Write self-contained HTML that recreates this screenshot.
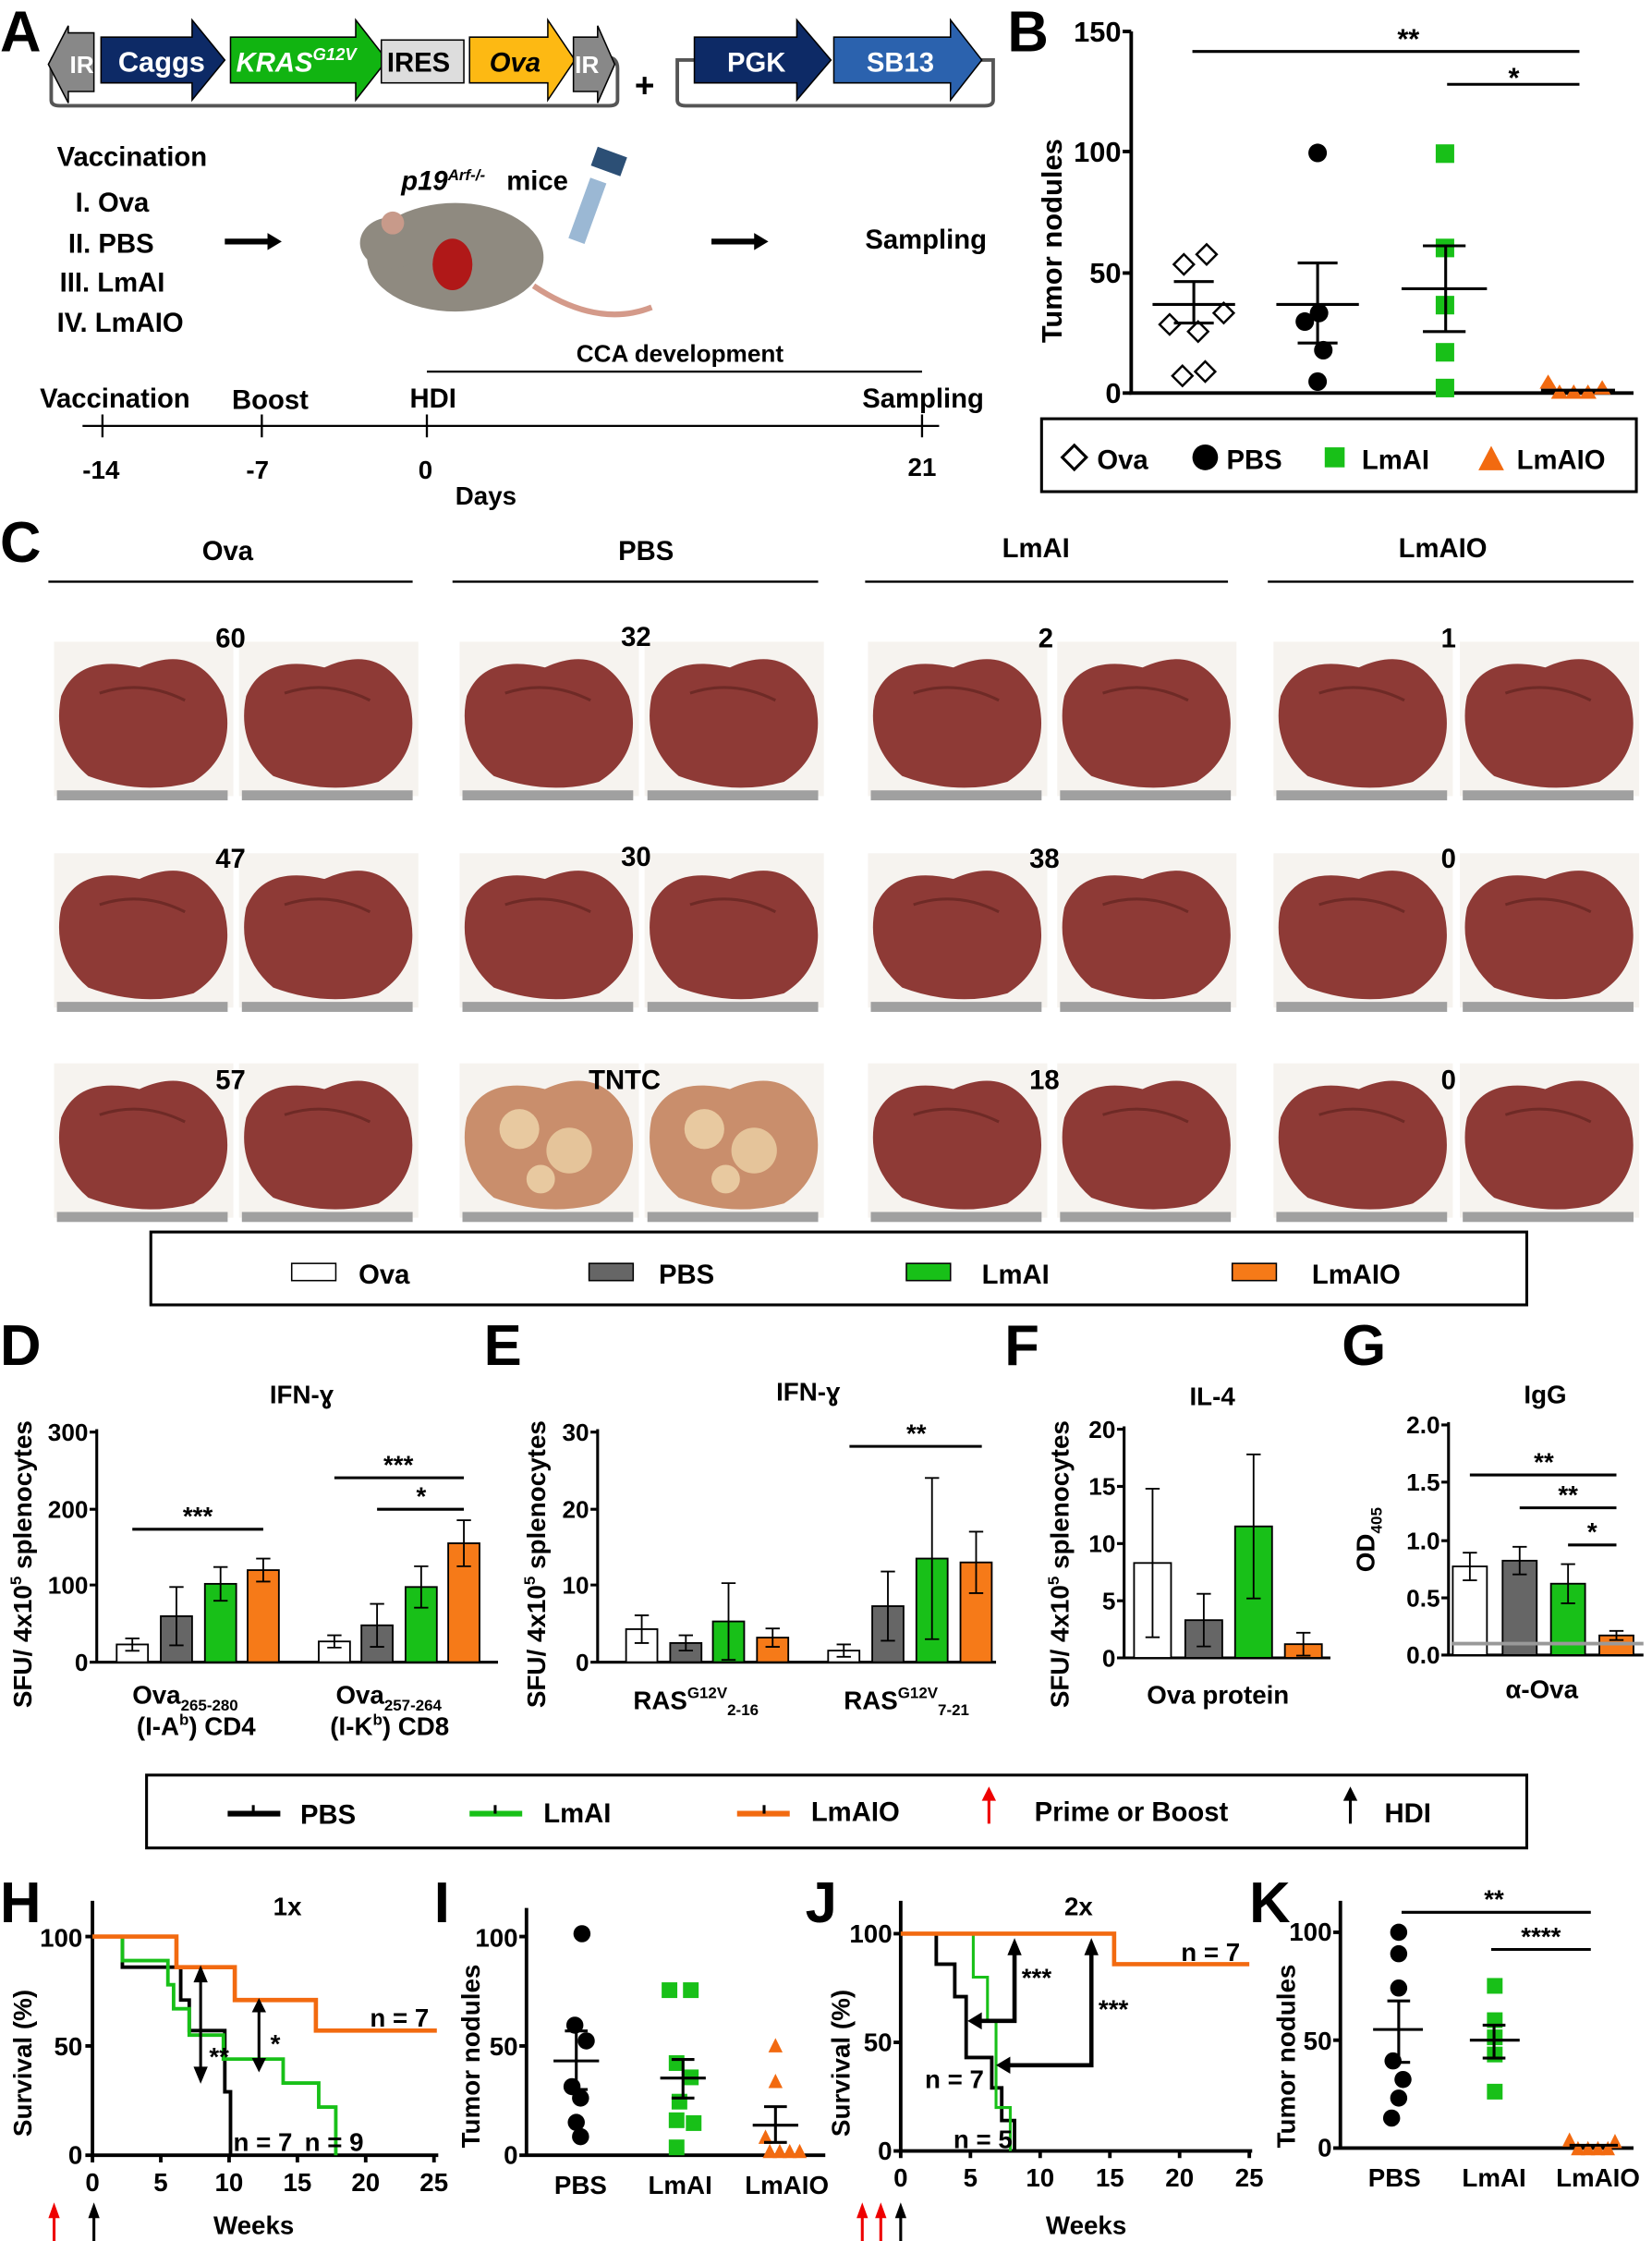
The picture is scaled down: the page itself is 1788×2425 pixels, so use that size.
<!DOCTYPE html>
<html><head><meta charset="utf-8">
<style>
html,body{margin:0;padding:0;background:#fff;}
svg{display:block;font-family:"Liberation Sans",Arial,sans-serif;font-weight:bold;}
</style></head>
<body>
<svg width="1788" height="2425" viewBox="0 0 1161 1568" preserveAspectRatio="none" xmlns="http://www.w3.org/2000/svg">
<defs>
<g id="lv"><rect x="-2" y="-6" width="126" height="108" fill="#f6f3ef"/>
<path d="M3,32 Q15,2 58,12 Q98,-6 117,32 Q128,72 96,92 Q60,102 22,88 Q-4,66 3,32Z" fill="#8e3a36"/>
<path d="M30,30 Q60,20 90,35" stroke="#6e2a26" stroke-width="2" fill="none"/>
<rect x="0" y="98" width="120" height="7" fill="#a0a0a0"/></g>
<g id="lvt"><rect x="-2" y="-6" width="126" height="108" fill="#f6f3ef"/>
<path d="M3,32 Q15,2 58,12 Q98,-6 117,32 Q128,72 96,92 Q60,102 22,88 Q-4,66 3,32Z" fill="#c98e6c"/>
<circle cx="40" cy="40" r="14" fill="#e8c9a0"/><circle cx="75" cy="55" r="16" fill="#e5c49a"/><circle cx="55" cy="75" r="10" fill="#e8c9a0"/>
<rect x="0" y="98" width="120" height="7" fill="#a0a0a0"/></g>
</defs>
<rect width="1161" height="1568" fill="#fff"/>
<g font-size="40" fill="#000">
<text x="0" y="36">A</text><text x="708" y="36">B</text><text x="0" y="393">C</text>
<text x="0" y="955">D</text><text x="340" y="955">E</text><text x="706" y="955">F</text><text x="943" y="955">G</text>
<text x="0" y="1345">H</text><text x="305" y="1345">I</text><text x="566" y="1345">J</text><text x="878" y="1345">K</text>
</g>
<!-- construct -->
<path d="M60,40 L38,40 Q36,40 36,48 L36,70 Q36,74 42,74 L428,74 Q434,74 434,70 L434,48 Q434,40 426,40" fill="none" stroke="#555" stroke-width="2.5"/>
<polygon points="66,23 66,64 48,64 48,72 34,45 48,18 48,23" fill="#888" stroke="#000"/>
<text x="49" y="51" font-size="17" fill="#fff">IR</text>
<polygon points="71,26 135,26 135,14 158,42 135,70 135,58 71,58" fill="#0d2a66" stroke="#000"/>
<text x="83" y="50" font-size="20" fill="#fff">Caggs</text>
<polygon points="162,26 250,26 250,14 272,42 250,70 250,58 162,58" fill="#11b411" stroke="#000"/>
<text x="166" y="50" font-size="19" fill="#fff" font-style="italic">KRAS<tspan font-size="12" dy="-8">G12V</tspan></text>
<rect x="268" y="28" width="58" height="30" fill="#ddd" stroke="#000"/>
<text x="272" y="50" font-size="19">IRES</text>
<polygon points="330,26 385,26 385,14 404,42 385,70 385,58 330,58" fill="#fdb913" stroke="#000"/>
<text x="344" y="50" font-size="19" font-style="italic">Ova</text>
<polygon points="403,26 420,26 420,18 432,45 420,72 420,64 403,64" fill="#888" stroke="#000"/>
<text x="404" y="51" font-size="17" fill="#fff">IR</text>
<text x="446" y="68" font-size="24">+</text>
<path d="M490,42 L476,42 L476,70 Q476,74 482,74 L692,74 Q698,74 698,70 L698,42 L688,42" fill="none" stroke="#555" stroke-width="2.5"/>
<polygon points="488,26 560,26 560,14 584,42 560,70 560,58 488,58" fill="#0d2a66" stroke="#000"/>
<text x="511" y="50" font-size="19" fill="#fff">PGK</text>
<polygon points="586,26 668,26 668,14 690,42 668,70 668,58 586,58" fill="#2b62ae" stroke="#000"/>
<text x="609" y="50" font-size="19" fill="#fff">SB13</text>
<g font-size="19">
<text x="40" y="116">Vaccination</text><text x="53" y="148">I. Ova</text><text x="48" y="177">II. PBS</text>
<text x="42" y="204">III. LmAI</text><text x="40" y="232">IV. LmAIO</text>
<text x="608" y="174">Sampling</text>
<text x="282" y="133" font-style="italic">p19<tspan font-size="11" dy="-7">Arf-/-</tspan></text><text x="356" y="133">mice</text>
</g>
<path d="M158,169 H190" stroke="#000" stroke-width="4"/><polygon points="188,163 198,169 188,175"/>
<path d="M500,169 H532" stroke="#000" stroke-width="4"/><polygon points="530,163 540,169 530,175"/>
<ellipse cx="320" cy="180" rx="62" ry="38" fill="#8f8a80"/>
<ellipse cx="275" cy="170" rx="22" ry="18" fill="#8f8a80"/>
<circle cx="276" cy="156" r="8" fill="#c89a8a"/>
<ellipse cx="318" cy="185" rx="14" ry="18" fill="#b01818"/>
<path d="M375,200 Q420,230 458,215" stroke="#d49a8a" stroke-width="4" fill="none"/>
<rect x="407" y="125" width="12" height="45" fill="#9bb8d4" transform="rotate(20 413 147)"/>
<rect x="417" y="106" width="22" height="14" fill="#2c4f75" transform="rotate(20 428 113)"/>
<text x="405" y="253" font-size="17">CCA development</text>
<path d="M300,260 H648" stroke="#000" stroke-width="1.5"/>
<g font-size="19"><text x="28" y="285">Vaccination</text><text x="163" y="286">Boost</text><text x="288" y="285">HDI</text><text x="606" y="285">Sampling</text></g>
<path d="M58,298 H660" stroke="#000" stroke-width="1.5"/>
<path d="M72,290 V306 M184,290 V306 M300,290 V306 M648,290 V306" stroke="#000" stroke-width="1.5"/>
<g font-size="18"><text x="58" y="335">-14</text><text x="173" y="335">-7</text><text x="294" y="335">0</text><text x="638" y="333">21</text><text x="320" y="353">Days</text></g>

<!-- panel B -->
<g stroke="#000" stroke-width="2.5" fill="none">
<path d="M795,22 V275 H1148"/><path d="M789,22 H795 M789,106 H795 M789,191 H795 M789,275 H795"/>
<path d="M838,36 H1110 M1017,59 H1110" stroke-width="2"/>
</g>
<g font-size="20"><text x="788" y="29" text-anchor="end">150</text><text x="788" y="113" text-anchor="end">100</text><text x="788" y="198" text-anchor="end">50</text><text x="788" y="282" text-anchor="end">0</text>
<text x="982" y="34">**</text><text x="1060" y="61">*</text>
<text transform="translate(746,240) rotate(-90)">Tumor nodules</text></g>
<g fill="#fff" stroke="#000" stroke-width="1.6">
<rect x="-5" y="-5" width="10" height="10" transform="translate(831,263) rotate(45)"/>
<rect x="-5" y="-5" width="10" height="10" transform="translate(847,260) rotate(45)"/>
<rect x="-5" y="-5" width="10" height="10" transform="translate(822,227) rotate(45)"/>
<rect x="-5" y="-5" width="10" height="10" transform="translate(860,219) rotate(45)"/>
<rect x="-5" y="-5" width="10" height="10" transform="translate(842,232) rotate(45)"/>
<rect x="-5" y="-5" width="10" height="10" transform="translate(832,185) rotate(45)"/>
<rect x="-5" y="-5" width="10" height="10" transform="translate(848,178) rotate(45)"/>
</g>
<g fill="#000"><circle cx="926" cy="107" r="6.5"/><circle cx="917" cy="225" r="6.5"/><circle cx="927" cy="219" r="6.5"/><circle cx="930" cy="245" r="6.5"/><circle cx="926" cy="267" r="6.5"/></g>
<g fill="#18c018"><rect x="1009" y="101" width="13" height="13"/><rect x="1009" y="167" width="13" height="13"/><rect x="1009" y="207" width="13" height="13"/><rect x="1009" y="240" width="13" height="13"/><rect x="1009" y="265" width="13" height="13"/></g>
<g fill="#f26a10"><polygon points="1082,272 1088,262 1094,272"/><polygon points="1090,279 1096,269 1102,279"/><polygon points="1100,279 1106,269 1112,279"/><polygon points="1110,279 1116,269 1122,279"/><polygon points="1120,276 1126,266 1132,276"/></g>
<g stroke="#000" stroke-width="2" fill="none">
<path d="M810,213 H868 M839,197 V226 M825,197 H853 M825,226 H853"/>
<path d="M897,213 H955 M926,184 V240 M912,184 H940 M912,240 H940"/>
<path d="M985,202 H1045 M1016,172 V232 M1000,172 H1030 M1000,232 H1030"/>
<path d="M1083,273 H1135"/>
</g>
<rect x="732" y="293" width="418" height="51" fill="none" stroke="#000" stroke-width="2"/>
<g font-size="19"><text x="771" y="328">Ova</text><text x="862" y="328">PBS</text><text x="957" y="328">LmAI</text><text x="1066" y="328">LmAIO</text></g>
<rect x="749" y="314" width="12" height="12" fill="#fff" stroke="#000" stroke-width="2" transform="rotate(45 755 320)"/>
<circle cx="847" cy="320" r="9"/><rect x="931" y="313" width="14" height="14" fill="#18c018"/>
<polygon points="1048,312 1057,329 1039,329" fill="#f26a10"/>

<!-- Panel C -->
<g font-size="19" text-anchor="middle"><text x="160" y="392">Ova</text><text x="454" y="392">PBS</text><text x="728" y="390">LmAI</text><text x="1014" y="390">LmAIO</text></g>
<path d="M34,407 H290 M318,407 H575 M608,407 H863 M891,407 H1148" stroke="#000" stroke-width="1.5"/>
<use href="#lv" x="40" y="455"/><use href="#lv" x="170" y="455"/><use href="#lv" x="325" y="455"/><use href="#lv" x="455" y="455"/>
<use href="#lv" x="612" y="455"/><use href="#lv" x="745" y="455"/><use href="#lv" x="897" y="455"/><use href="#lv" x="1028" y="455"/>
<use href="#lv" x="40" y="603"/><use href="#lv" x="170" y="603"/><use href="#lv" x="325" y="603"/><use href="#lv" x="455" y="603"/>
<use href="#lv" x="612" y="603"/><use href="#lv" x="745" y="603"/><use href="#lv" x="897" y="603"/><use href="#lv" x="1028" y="603"/>
<use href="#lv" x="40" y="750"/><use href="#lv" x="170" y="750"/><use href="#lvt" x="325" y="750"/><use href="#lvt" x="455" y="750"/>
<use href="#lv" x="612" y="750"/><use href="#lv" x="745" y="750"/><use href="#lv" x="897" y="750"/><use href="#lv" x="1028" y="750"/>
<g font-size="19" text-anchor="middle">
<text x="162" y="453">60</text><text x="447" y="452">32</text><text x="735" y="453">2</text><text x="1018" y="453">1</text>
<text x="162" y="607">47</text><text x="447" y="606">30</text><text x="734" y="607">38</text><text x="1018" y="607">0</text>
<text x="162" y="762">57</text><text x="439" y="762">TNTC</text><text x="734" y="762">18</text><text x="1018" y="762">0</text>
</g>
<rect x="106" y="862" width="967" height="51" fill="none" stroke="#000" stroke-width="2"/>
<g font-size="19"><text x="252" y="898">Ova</text><text x="463" y="898">PBS</text><text x="690" y="898">LmAI</text><text x="922" y="898">LmAIO</text></g>
<rect x="205" y="884" width="31" height="12" fill="#fff" stroke="#000"/><rect x="414" y="884" width="31" height="12" fill="#666" stroke="#000"/>
<rect x="637" y="884" width="31" height="12" fill="#18c018" stroke="#000"/><rect x="866" y="884" width="31" height="12" fill="#f67a18" stroke="#000"/>

<!-- Panel titles D-G -->
<g font-size="18" text-anchor="middle"><text x="212" y="982">IFN-ɣ</text><text x="568" y="980">IFN-ɣ</text><text x="852" y="983">IL-4</text><text x="1086" y="982">IgG</text></g>
<g font-size="18">
<text transform="translate(22,1195) rotate(-90)">SFU/ 4x10<tspan font-size="11" dy="-7">5</tspan><tspan dy="7"> splenocytes</tspan></text>
<text transform="translate(383,1195) rotate(-90)">SFU/ 4x10<tspan font-size="11" dy="-7">5</tspan><tspan dy="7"> splenocytes</tspan></text>
<text transform="translate(751,1195) rotate(-90)">SFU/ 4x10<tspan font-size="11" dy="-7">5</tspan><tspan dy="7"> splenocytes</tspan></text>
<text transform="translate(966,1100) rotate(-90)">OD<tspan font-size="11" dy="5">405</tspan></text>
<text x="93" y="1192">Ova<tspan font-size="11" dy="5">265-280</tspan></text><text x="96" y="1214">(I-A<tspan font-size="11" dy="-7">b</tspan><tspan dy="7">) CD4</tspan></text>
<text x="236" y="1192">Ova<tspan font-size="11" dy="5">257-264</tspan></text><text x="232" y="1214">(I-K<tspan font-size="11" dy="-7">b</tspan><tspan dy="7">) CD8</tspan></text>
<text x="445" y="1196">RAS<tspan font-size="11" dy="-8">G12V</tspan><tspan font-size="11" dy="12">2-16</tspan></text>
<text x="593" y="1196">RAS<tspan font-size="11" dy="-8">G12V</tspan><tspan font-size="11" dy="12">7-21</tspan></text>
<text x="806" y="1192">Ova protein</text><text x="1058" y="1188">α-Ova</text>
</g>
<!-- axes D-G -->
<g stroke="#000" stroke-width="2" fill="none">
<path d="M68,1000 V1163 H350 M63,1163 H68 M63,1109 H68 M63,1056 H68 M63,1002 H68"/>
<path d="M420,1000 V1163 H700 M415,1163 H420 M415,1109 H420 M415,1056 H420 M415,1002 H420"/>
<path d="M790,998 V1160 H935 M785,1160 H790 M785,1120 H790 M785,1080 H790 M785,1040 H790 M785,1000 H790"/>
<path d="M1018,995 V1158 H1155 M1013,1158 H1018 M1013,1118 H1018 M1013,1078 H1018 M1013,1037 H1018 M1013,997 H1018"/>
</g>
<g font-size="17" text-anchor="end">
<text x="62" y="1169">0</text><text x="62" y="1115">100</text><text x="62" y="1062">200</text><text x="62" y="1008">300</text>
<text x="414" y="1169">0</text><text x="414" y="1115">10</text><text x="414" y="1062">20</text><text x="414" y="1008">30</text>
<text x="784" y="1166">0</text><text x="784" y="1126">5</text><text x="784" y="1086">10</text><text x="784" y="1046">15</text><text x="784" y="1006">20</text>
<text x="1012" y="1164">0.0</text><text x="1012" y="1124">0.5</text><text x="1012" y="1084">1.0</text><text x="1012" y="1043">1.5</text><text x="1012" y="1003">2.0</text>
</g>
<!-- bars -->
<g stroke="#000" stroke-width="1.2">
<rect x="82" y="1150.6" width="22" height="12.4" fill="#fff"/><rect x="113" y="1130.8" width="22" height="32.2" fill="#666"/><rect x="144" y="1108.2" width="22" height="54.8" fill="#18c018"/><rect x="174" y="1098.6" width="22" height="64.4" fill="#f67a18"/>
<rect x="224" y="1148.5" width="22" height="14.5" fill="#fff"/><rect x="254" y="1137.2" width="22" height="25.8" fill="#666"/><rect x="285" y="1110.4" width="22" height="52.6" fill="#18c018"/><rect x="315" y="1079.8" width="22" height="83.2" fill="#f67a18"/>
<rect x="440" y="1139.9" width="22" height="23.1" fill="#fff"/><rect x="471" y="1149.6" width="22" height="13.4" fill="#666"/><rect x="501" y="1134.5" width="22" height="28.5" fill="#18c018"/><rect x="532" y="1145.8" width="22" height="17.2" fill="#f67a18"/>
<rect x="582" y="1154.9" width="22" height="8.1" fill="#fff"/><rect x="613" y="1123.8" width="22" height="39.2" fill="#666"/><rect x="644" y="1090.5" width="22" height="72.5" fill="#18c018"/><rect x="675" y="1093.2" width="22" height="69.8" fill="#f67a18"/>
<rect x="797" y="1093.6" width="26" height="66.4" fill="#fff"/><rect x="833" y="1133.6" width="26" height="26.4" fill="#666"/><rect x="868" y="1068" width="26" height="92" fill="#18c018"/><rect x="903" y="1150.4" width="26" height="9.6" fill="#f67a18"/>
<rect x="1021" y="1096" width="24" height="62" fill="#fff"/><rect x="1056" y="1092" width="24" height="66" fill="#666"/><rect x="1090" y="1108.1" width="24" height="49.9" fill="#18c018"/><rect x="1124" y="1144.3" width="24" height="13.7" fill="#f67a18"/>
</g>
<g stroke="#000" stroke-width="1.2" fill="none">
<path d="M93,1146.4 V1155 M88,1146.4 H98 M88,1155 H98"/>
<path d="M124,1110.4 V1151.2 M119,1110.4 H129 M119,1151.2 H129"/>
<path d="M155,1096.4 V1120 M150,1096.4 H160 M150,1120 H160"/>
<path d="M185,1090.5 V1106.6 M180,1090.5 H190 M180,1106.6 H190"/>
<path d="M235,1144.2 V1152.8 M230,1144.2 H240 M230,1152.8 H240"/>
<path d="M265,1122.2 V1152.3 M260,1122.2 H270 M260,1152.3 H270"/>
<path d="M296,1095.9 V1124.9 M291,1095.9 H301 M291,1124.9 H301"/>
<path d="M326,1063.7 V1095.9 M321,1063.7 H331 M321,1095.9 H331"/>
<path d="M451,1130.2 V1149.6 M446,1130.2 H456 M446,1149.6 H456"/>
<path d="M482,1144.2 V1154.9 M477,1144.2 H487 M477,1154.9 H487"/>
<path d="M512,1107.7 V1161.4 M507,1107.7 H517 M507,1161.4 H517"/>
<path d="M543,1139.4 V1152.3 M538,1139.4 H548 M538,1152.3 H548"/>
<path d="M593,1150.6 V1159.2 M588,1150.6 H598 M588,1159.2 H598"/>
<path d="M624,1099.6 V1148 M619,1099.6 H629 M619,1148 H629"/>
<path d="M655,1034.1 V1146.9 M650,1034.1 H660 M650,1146.9 H660"/>
<path d="M686,1071.7 V1114.7 M681,1071.7 H691 M681,1114.7 H691"/>
<path d="M810,1041.6 V1145.6 M805,1041.6 H815 M805,1145.6 H815"/>
<path d="M846,1115.2 V1152 M841,1115.2 H851 M841,1152 H851"/>
<path d="M881,1017.6 V1118.4 M876,1017.6 H886 M876,1118.4 H886"/>
<path d="M916,1142.4 V1158.4 M911,1142.4 H921 M911,1158.4 H921"/>
<path d="M1033,1086.4 V1105.7 M1028,1086.4 H1038 M1028,1105.7 H1038"/>
<path d="M1068,1082.3 V1101.6 M1063,1082.3 H1073 M1063,1101.6 H1073"/>
<path d="M1102,1094.4 V1121.8 M1097,1094.4 H1107 M1097,1121.8 H1107"/>
<path d="M1136,1141.1 V1147.5 M1131,1141.1 H1141 M1131,1147.5 H1141"/>
</g>
<path d="M1020,1150 H1155" stroke="#999" stroke-width="2.5"/>
<g stroke="#000" stroke-width="2">
<path d="M93,1070 H185 M235,1034 H326 M265,1056 H326 M597,1012 H690 M1033,1032 H1136 M1068,1055 H1136 M1102,1081 H1136"/>
</g>
<g font-size="18" text-anchor="middle">
<text x="139" y="1067">***</text><text x="280" y="1031">***</text><text x="296" y="1053">*</text><text x="644" y="1009">**</text>
<text x="1085" y="1029">**</text><text x="1102" y="1052">**</text><text x="1119" y="1078">*</text>
</g>

<!-- legend 2 -->
<rect x="103" y="1242" width="970" height="51" fill="none" stroke="#000" stroke-width="2"/>
<g font-size="19"><text x="211" y="1276">PBS</text><text x="382" y="1275">LmAI</text><text x="570" y="1274">LmAIO</text><text x="727" y="1274">Prime or Boost</text><text x="973" y="1275">HDI</text></g>
<path d="M160,1269 H197" stroke="#000" stroke-width="4"/><path d="M178,1263 V1269" stroke="#000" stroke-width="2"/>
<path d="M330,1269 H367" stroke="#18c018" stroke-width="4"/><path d="M348,1263 V1269" stroke="#000" stroke-width="2"/>
<path d="M518,1269 H555" stroke="#f26a10" stroke-width="4"/><path d="M537,1263 V1269" stroke="#000" stroke-width="2"/>
<path d="M695,1276 V1258" stroke="#e00" stroke-width="2"/><polygon points="690,1260 695,1250 700,1260" fill="#e00"/>
<path d="M949,1276 V1258" stroke="#000" stroke-width="2"/><polygon points="944,1260 949,1250 954,1260"/>

<!-- H -->
<g stroke="#000" stroke-width="2.5" fill="none">
<path d="M65,1330 V1508 H308 M60,1355 H65 M60,1431.5 H65 M60,1508 H65"/>
<path d="M65,1508 V1513 M113,1508 V1513 M161,1508 V1513 M209,1508 V1513 M257,1508 V1513 M305,1508 V1513"/>
</g>
<g font-size="18" text-anchor="end"><text x="58" y="1362">100</text><text x="58" y="1438">50</text><text x="58" y="1514">0</text></g>
<g font-size="18" text-anchor="middle"><text x="65" y="1533">0</text><text x="113" y="1533">5</text><text x="161" y="1533">10</text><text x="209" y="1533">15</text><text x="257" y="1533">20</text><text x="305" y="1533">25</text></g>
<polyline points="65,1355 86,1355 86,1376.4 127,1376.4 127,1399.4 133,1399.4 133,1420.8 158,1420.8 158,1463.6 162,1463.6 162,1508" fill="none" stroke="#000" stroke-width="2.5"/>
<polyline points="65,1355 86,1355 86,1371.8 118,1371.8 118,1388.7 122,1388.7 122,1405.5 133,1405.5 133,1423.9 157,1423.9 157,1440.7 199,1440.7 199,1457.5 224,1457.5 224,1474.3 236,1474.3 236,1508" fill="none" stroke="#18c018" stroke-width="2.5"/>
<polyline points="65,1355 124,1355 124,1376.4 165,1376.4 165,1399.4 222,1399.4 222,1420.8 307,1420.8" fill="none" stroke="#f26a10" stroke-width="3"/>
<g stroke="#000" stroke-width="2"><path d="M141,1385 V1450 M182,1406 V1442"/></g>
<polygon points="136,1387 141,1375 146,1387"/><polygon points="136,1446 141,1458 146,1446"/>
<polygon points="177,1408 182,1398 187,1408"/><polygon points="177,1440 182,1450 187,1440"/>
<g font-size="18"><text x="147" y="1445">**</text><text x="190" y="1436">*</text><text x="192" y="1340">1x</text><text x="164" y="1505">n = 7</text><text x="214" y="1505">n = 9</text><text x="260" y="1418">n = 7</text>
<text transform="translate(22,1495) rotate(-90)">Survival (%)</text><text x="150" y="1563">Weeks</text></g>
<path d="M38,1568 V1550" stroke="#e00" stroke-width="2"/><polygon points="34,1552 38,1541 42,1552" fill="#e00"/>
<path d="M66,1568 V1550" stroke="#000" stroke-width="2"/><polygon points="62,1552 66,1541 70,1552"/>

<!-- I -->
<g stroke="#000" stroke-width="2.5" fill="none"><path d="M370,1335 V1508 H580 M365,1355 H370 M365,1431.5 H370 M365,1508 H370"/></g>
<g font-size="18" text-anchor="end"><text x="364" y="1362">100</text><text x="364" y="1438">50</text><text x="364" y="1514">0</text></g>
<g font-size="18"><text transform="translate(337,1503) rotate(-90)">Tumor nodules</text></g>
<g font-size="18" text-anchor="middle"><text x="408" y="1535">PBS</text><text x="478" y="1535">LmAI</text><text x="553" y="1535">LmAIO</text></g>
<g><circle cx="409" cy="1353" r="6"/><circle cx="404" cy="1417" r="6"/><circle cx="412" cy="1428" r="6"/><circle cx="402" cy="1460" r="6"/><circle cx="408" cy="1468" r="6"/><circle cx="405" cy="1485" r="6"/><circle cx="408" cy="1495" r="6"/></g>
<g fill="#18c018"><rect x="465" y="1387" width="11" height="11"/><rect x="480" y="1387" width="11" height="11"/><rect x="470" y="1438" width="11" height="11"/><rect x="480" y="1448" width="11" height="11"/><rect x="472" y="1465" width="11" height="11"/><rect x="470" y="1478" width="11" height="11"/><rect x="482" y="1480" width="11" height="11"/><rect x="470" y="1497" width="11" height="11"/></g>
<g fill="#f26a10"><polygon points="540,1436 545,1426 550,1436"/><polygon points="540,1461 545,1451 550,1461"/><polygon points="533,1500 538,1490 543,1500"/><polygon points="536,1510 541,1500 546,1510"/><polygon points="543,1510 548,1500 553,1510"/><polygon points="550,1510 555,1500 560,1510"/><polygon points="557,1510 562,1500 567,1510"/></g>
<g stroke="#000" stroke-width="2" fill="none">
<path d="M389,1442 H421 M405,1421 V1462 M397,1421 H413 M397,1462 H413"/>
<path d="M464,1454 H496 M480,1441 V1468 M472,1441 H488 M472,1468 H488"/>
<path d="M529,1487 H561 M545,1474 V1499 M537,1474 H553 M537,1499 H553"/>
</g>

<!-- J -->
<g stroke="#000" stroke-width="2.5" fill="none">
<path d="M633,1330 V1505 H880 M628,1353 H633 M628,1429 H633 M628,1505 H633"/>
<path d="M633,1505 V1510 M682,1505 V1510 M731,1505 V1510 M780,1505 V1510 M829,1505 V1510 M878,1505 V1510"/>
</g>
<g font-size="18" text-anchor="end"><text x="627" y="1359">100</text><text x="627" y="1435">50</text><text x="627" y="1511">0</text></g>
<g font-size="18" text-anchor="middle"><text x="633" y="1530">0</text><text x="682" y="1530">5</text><text x="731" y="1530">10</text><text x="780" y="1530">15</text><text x="829" y="1530">20</text><text x="878" y="1530">25</text></g>
<polyline points="633,1353 658,1353 658,1374.3 671,1374.3 671,1397 679,1397 679,1439.6 697,1439.6 697,1460.9 704,1460.9 704,1483.7 713,1483.7 713,1505" fill="none" stroke="#000" stroke-width="2.5"/>
<polyline points="633,1353 684,1353 684,1383.4 694,1383.4 694,1413.8 700,1413.8 700,1474.6 710,1474.6 710,1505" fill="none" stroke="#18c018" stroke-width="2"/>
<polyline points="633,1353 783,1353 783,1374.3 878,1374.3" fill="none" stroke="#f26a10" stroke-width="3"/>
<path d="M713,1366 V1414 H688 M767,1366 V1445 H708" stroke="#000" stroke-width="3" fill="none"/>
<polygon points="708,1368 713,1356 718,1368"/><polygon points="762,1368 767,1356 772,1368"/>
<polygon points="690,1408 680,1414 690,1420"/><polygon points="710,1439 700,1445 710,1451"/>
<g font-size="18"><text x="718" y="1390">***</text><text x="772" y="1412">***</text><text x="748" y="1340">2x</text><text x="650" y="1461">n = 7</text><text x="670" y="1503">n = 5</text><text x="830" y="1372">n = 7</text>
<text transform="translate(597,1495) rotate(-90)">Survival (%)</text><text x="735" y="1563">Weeks</text></g>
<path d="M606,1568 V1550 M619,1568 V1550" stroke="#e00" stroke-width="2"/>
<polygon points="602,1552 606,1541 610,1552" fill="#e00"/><polygon points="615,1552 619,1541 623,1552" fill="#e00"/>
<path d="M633,1568 V1550" stroke="#000" stroke-width="2"/><polygon points="629,1552 633,1541 637,1552"/>

<!-- K -->
<g stroke="#000" stroke-width="2.5" fill="none"><path d="M942,1330 V1503 H1148 M937,1352 H942 M937,1427.5 H942 M937,1503 H942"/></g>
<g font-size="18" text-anchor="end"><text x="936" y="1358">100</text><text x="936" y="1434">50</text><text x="936" y="1509">0</text></g>
<g font-size="18"><text transform="translate(910,1503) rotate(-90)">Tumor nodules</text></g>
<g font-size="18" text-anchor="middle"><text x="980" y="1530">PBS</text><text x="1050" y="1530">LmAI</text><text x="1123" y="1530">LmAIO</text></g>
<g><circle cx="983" cy="1352" r="6"/><circle cx="983" cy="1367" r="6"/><circle cx="983" cy="1391" r="6"/><circle cx="979" cy="1442" r="6"/><circle cx="986" cy="1455" r="6"/><circle cx="983" cy="1468" r="6"/><circle cx="978" cy="1482" r="6"/></g>
<g fill="#18c018"><rect x="1045" y="1384" width="11" height="11"/><rect x="1045" y="1408" width="11" height="11"/><rect x="1045" y="1420" width="11" height="11"/><rect x="1045" y="1432" width="11" height="11"/><rect x="1045" y="1458" width="11" height="11"/></g>
<g fill="#f26a10"><polygon points="1098,1502 1103,1492 1108,1502"/><polygon points="1104,1508 1109,1498 1114,1508"/><polygon points="1111,1508 1116,1498 1121,1508"/><polygon points="1118,1508 1123,1498 1128,1508"/><polygon points="1125,1508 1130,1498 1135,1508"/><polygon points="1130,1503 1135,1493 1140,1503"/></g>
<g stroke="#000" stroke-width="2" fill="none">
<path d="M965,1420 H1000 M983,1400 V1443 M975,1400 H991 M975,1443 H991"/>
<path d="M1033,1427.5 H1068 M1050,1417 V1440 M1042,1417 H1058 M1042,1440 H1058"/>
<path d="M1103,1501 H1137"/>
<path d="M985,1338 H1118 M1048,1364 H1118"/>
</g>
<g font-size="18" text-anchor="middle"><text x="1050" y="1335">**</text><text x="1083" y="1361">****</text></g>
</svg>
</body></html>
